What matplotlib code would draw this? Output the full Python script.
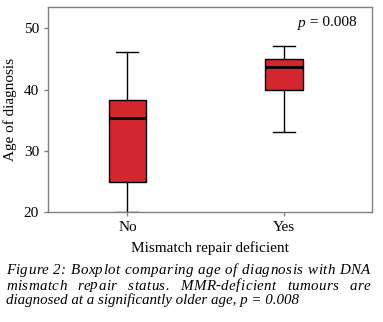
import matplotlib
matplotlib.use("Agg")
import matplotlib.pyplot as plt
from matplotlib.font_manager import FontProperties, findfont, get_font

categories = ["No", "Yes"]
whisker_low = [20.0, 33.1]
q1 = [25.0, 40.0]
median = [35.3, 43.7]
q3 = [38.3, 45.0]
whisker_high = [46.1, 47.1]
y_ticks = [20, 30, 40, 50]

caption_lines = [
    "Figure 2: Boxplot comparing age of diagnosis with DNA",
    "mismatch repair status. MMR-deficient tumours are",
    "diagnosed at a significantly older age, p = 0.008",
]

plt.rcParams['font.family'] = ['Liberation Serif', 'DejaVu Serif']

DPI = 100
fig = plt.figure(figsize=(3.83, 3.22), dpi=DPI)
ax = fig.add_axes([48/383, 1 - 212.3/322, (372-48)/383, (212.3-7.3)/322])

stats = []
for i, c in enumerate(categories):
    stats.append(dict(label=c, whislo=whisker_low[i], q1=q1[i], med=median[i],
                      q3=q3[i], whishi=whisker_high[i], fliers=[]))

ax.bxp(stats, positions=[1, 2], widths=0.24, patch_artist=True,
       boxprops=dict(facecolor='#D4262F', edgecolor='black', linewidth=1.0),
       medianprops=dict(color='black', linewidth=2.0),
       whiskerprops=dict(color='black', linewidth=1.0),
       capprops=dict(color='black', linewidth=1.0),
       capwidths=0.14)

ax.set_xlim(0.494, 2.56)
ax.set_ylim(20, 53.4)
ax.set_yticks(y_ticks)
for s in ax.spines.values():
    s.set_color('#808080')
    s.set_linewidth(1.0)
ax.tick_params(axis='both', colors='#808080', length=3, width=1.0, labelsize=11, labelcolor='black')
ax.set_ylabel("Age of diagnosis", fontsize=11, labelpad=5)
ax.set_xlabel("Mismatch repair deficient", fontsize=11, labelpad=5)

fig.canvas.draw()
renderer = fig.canvas.get_renderer()

# p-value annotation: italic p followed by upright text
tp = ax.text((298 - 48) / 324, (212.3 - 23) / 205, "p", transform=ax.transAxes,
             ha='left', va='center', fontsize=11, style='italic')
wp = tp.get_window_extent(renderer).width
ax.text((298 - 48 + wp) / 324, (212.3 - 23) / 205, " = 0.008", transform=ax.transAxes,
        ha='left', va='center', fontsize=11)

# caption: lines 1-2 justified (letter spacing + word spacing), line 3 left aligned
left_px, right_px = 6, 370
baselines = [274, 289.5, 304]
fs = 10.8
fp = FontProperties(family='Liberation Serif', style='italic', size=fs)
font = get_font(findfont(fp))
font.set_size(fs, DPI)


def layout(line):
    xs, bear = [], []
    x = 0.0
    prev = None
    for ch in line:
        g = font.get_char_index(ord(ch))
        if prev is not None:
            x += font.get_kerning(prev, g, 0) / 64.0
        glyph = font.load_char(ord(ch))
        xs.append(x)
        bear.append(glyph.horiBearingX / 64.0)
        x += glyph.linearHoriAdvance / 65536.0
        prev = g
    return xs, bear, x


letter_extra = None
for li, line in enumerate(caption_lines):
    y = 1 - baselines[li] / 322
    if li < 2:
        xs, bear, natural = layout(line)
        extra = (right_px - left_px) - natural
        n = len(line)
        nspace = line.count(" ")
        if letter_extra is None:
            letter_extra = extra / (n - 1)
            space_extra = 0.0
        else:
            space_extra = (extra - letter_extra * (n - 1)) / nspace
        spaces_before = 0
        for k, ch in enumerate(line):
            if ch == " ":
                spaces_before += 1
                continue
            x = left_px + xs[k] + 0.5 * min(bear[k], 0.0) + letter_extra * k + space_extra * spaces_before
            fig.text(x / 383, y, ch, fontproperties=fp, va='baseline', ha='left')
    else:
        fig.text(left_px / 383, y, line, fontproperties=fp, va='baseline', ha='left')

fig.savefig("out.png", dpi=DPI)
